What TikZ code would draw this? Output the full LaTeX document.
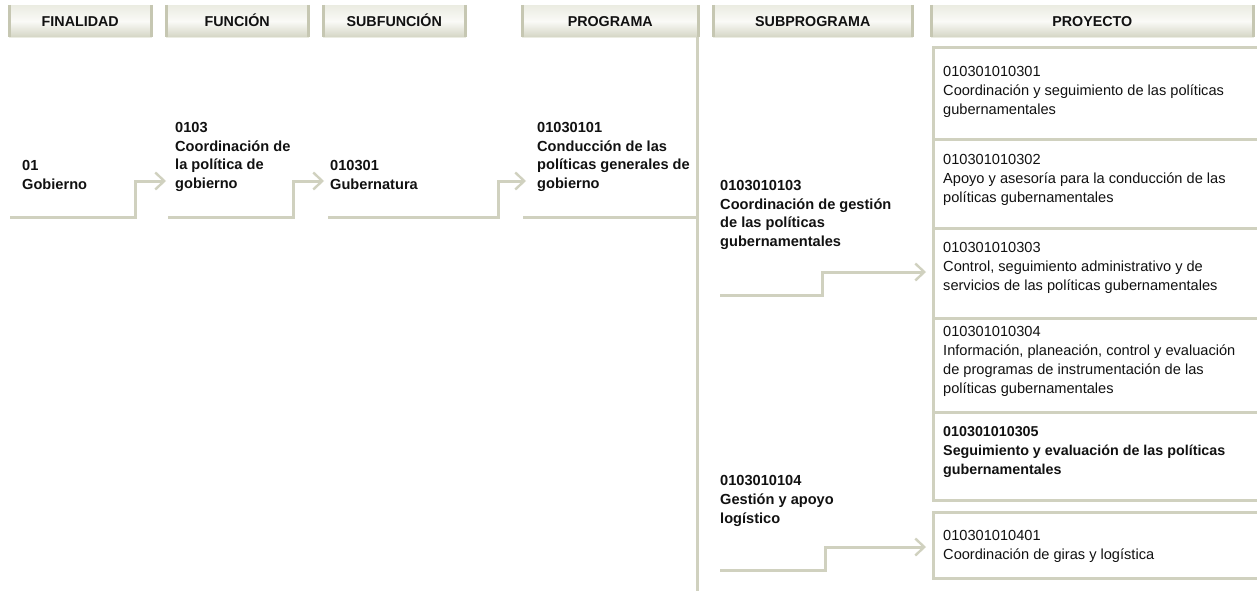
\documentclass[tikz,border=0pt]{standalone}
\usepackage{fontspec}
\setmainfont{Liberation Sans}
\usetikzlibrary{arrows.meta,shadings}
\definecolor{lnc}{HTML}{D0D1BF}
\definecolor{hdedge}{HTML}{C6C7B2}
\definecolor{hdtop}{HTML}{EBECE2}
\definecolor{hdmid}{HTML}{FAFAF7}
\definecolor{hdbot}{HTML}{D4D5C4}
\definecolor{txt}{HTML}{111111}
\begin{document}
\begin{tikzpicture}[x=1pt,y=-1pt,
  hdr/.style={rectangle, inner sep=0pt, minimum height=32pt, anchor=north west,
    text height=10.5pt, text depth=0pt,
    top color=hdtop, bottom color=hdbot, middle color=hdmid, draw=hdtop, line width=0.5pt,
    font=\fontsize{14.3}{15}\selectfont\bfseries, text=txt},
  hdside/.style={draw=hdedge, line width=3pt},
  item/.style={anchor=north west, inner sep=0pt, align=left, text=txt,
    font=\fontsize{14.6}{18.8}\selectfont\bfseries},
  proj/.style={anchor=north west, inner sep=0pt, align=left, text=txt,
    font=\fontsize{14.6}{19.2}\selectfont},
  projb/.style={proj, font=\fontsize{14.3}{19.2}\selectfont\bfseries},
  conn/.style={draw=lnc, line width=3pt},
  link/.style={draw=lnc, line width=3pt, -{Straight Barb[length=9pt,width=17pt,line width=2.4pt]}},
  pbox/.style={draw=lnc, line width=3pt}
]
\useasboundingbox (0,0) rectangle (1257,591);
\clip (0,0) rectangle (1257,591);
% headers
\node[hdr, minimum width=142pt] (h1) at (9,5) {FINALIDAD};
\node[hdr, minimum width=142pt] (h2) at (166,5) {FUNCIÓN};
\node[hdr, minimum width=142pt] (h3) at (323,5) {SUBFUNCIÓN};
\node[hdr, minimum width=176pt] (h4) at (522,5) {PROGRAMA};
\node[hdr, minimum width=199pt] (h5) at (713,5) {SUBPROGRAMA};
\node[hdr, minimum width=322pt] (h6) at (931,5) {PROYECTO};
\foreach \h in {h1,h2,h3,h4,h5,h6}{
  \draw[hdside] (\h.north west) -- (\h.south west);
  \draw[hdside] (\h.north east) -- (\h.south east);
}
% vertical divider below PROGRAMA
\coordinate (vtop) at (697,37);
\coordinate (vbot) at (697,591);
\draw[conn] (vtop) -- (vbot);
% items
\node[item] (f1) at (22,160) {01\\Gobierno};
\node[item] (f2) at (175,122) {0103\\Coordinación de\\la política de\\gobierno};
\node[item] (f3) at (330,160) {010301\\Gubernatura};
\node[item] (f4) at (537,122) {01030101\\Conducción de las\\políticas generales de\\gobierno};
\node[item] (f5) at (720,180) {0103010103\\Coordinación de gestión\\de las políticas\\gubernamentales};
\node[item] (f6) at (720,475) {0103010104\\Gestión y apoyo\\logístico};
% connector coordinates
\coordinate (a1) at (10,217);   \coordinate (b1) at (135,217);  \coordinate (c1) at (135,181);
\coordinate (a2) at (168,217);  \coordinate (b2) at (293,217);  \coordinate (c2) at (293,181);
\coordinate (a3) at (328,217);  \coordinate (b3) at (498,217);  \coordinate (c3) at (498,181);
\coordinate (a4) at (523,217);
\coordinate (a5) at (720,295);  \coordinate (b5) at (822,295);  \coordinate (c5) at (822,272);
\coordinate (a6) at (720,570);  \coordinate (b6) at (825,570);  \coordinate (c6) at (825,547);
\coordinate (t1) at (166,181);
\coordinate (t2) at (324,181);
\coordinate (t3) at (526,181);
\coordinate (t5) at (926,272);
\coordinate (t6) at (926,547);
\draw[link] (a1) -- (b1) -- (c1) -- (t1);
\draw[link] (a2) -- (b2) -- (c2) -- (t2);
\draw[link] (a3) -- (b3) -- (c3) -- (t3);
\draw[conn] (a4) -- (vtop |- a4);
\draw[link] (a5) -- (b5) -- (c5) -- (t5);
\draw[link] (a6) -- (b6) -- (c6) -- (t6);
% project boxes
\draw[pbox] (933,48) rectangle (1270,139);
\draw[pbox] (933,139) rectangle (1270,228);
\draw[pbox] (933,228) rectangle (1270,318);
\draw[pbox] (933,318) rectangle (1270,412);
\draw[pbox] (933,412) rectangle (1270,500);
\draw[pbox] (933,512) rectangle (1270,578);
\node[proj] (p1) at (943,66) {010301010301\\Coordinación y seguimiento de las políticas\\gubernamentales};
\node[proj] (p2) at (943,154) {010301010302\\Apoyo y asesoría para la conducción de las\\políticas gubernamentales};
\node[proj] (p3) at (943,242) {010301010303\\Control, seguimiento administrativo y de\\servicios de las políticas gubernamentales};
\node[proj] (p4) at (943,326) {010301010304\\Información, planeación, control y evaluación\\de programas de instrumentación de las\\políticas gubernamentales};
\node[projb] (p5) at (943,426) {010301010305\\Seguimiento y evaluación de las políticas\\gubernamentales};
\node[proj] (p6) at (943,530) {010301010401\\Coordinación de giras y logística};
\end{tikzpicture}
\end{document}
